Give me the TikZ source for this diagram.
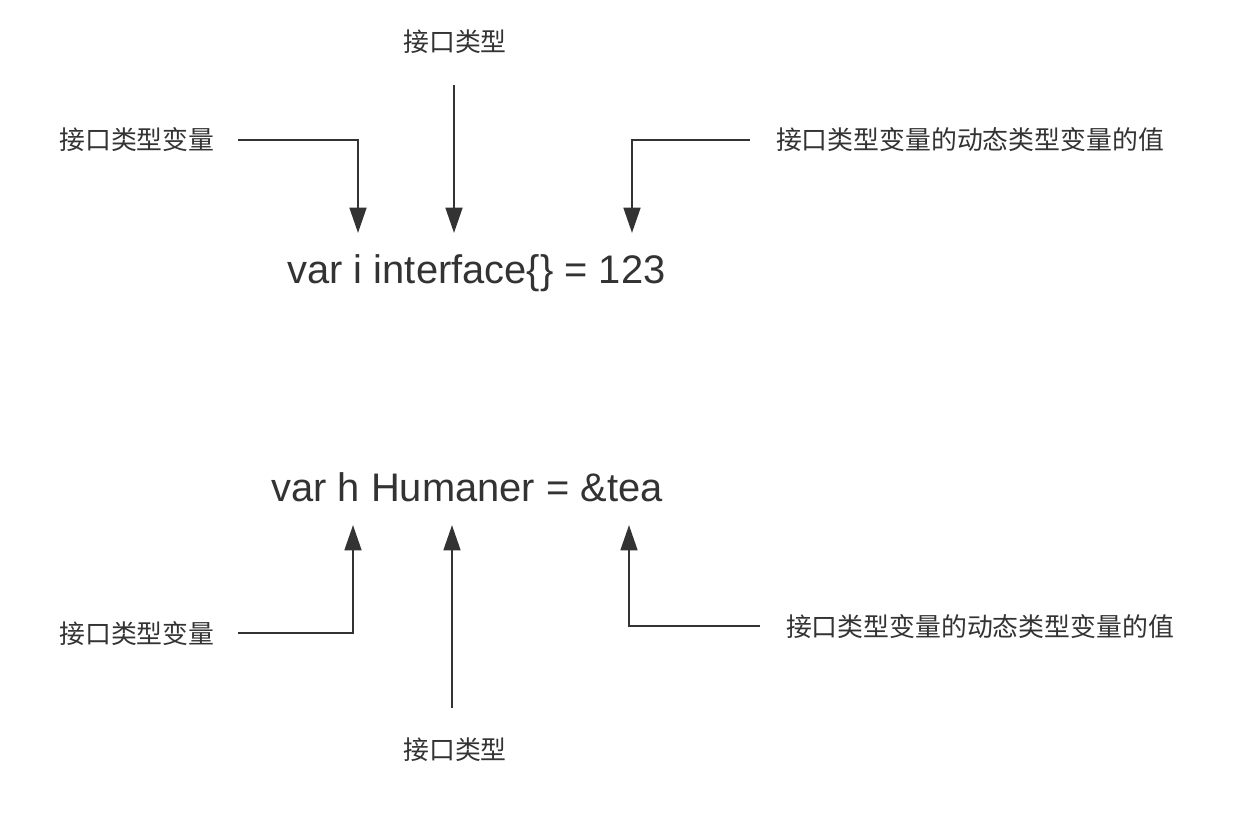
\documentclass[tikz,border=0pt]{standalone}
\usepackage{fontspec}
\setmainfont{Liberation Sans}
\newfontfamily\cjk{Noto Sans CJK SC}
\usetikzlibrary{arrows.meta}
\definecolor{ink}{HTML}{333333}
\begin{document}
\begin{tikzpicture}[x=0.75pt,y=-0.75pt,
  lab/.style={inner sep=0pt,text=ink,font=\cjk\fontsize{19.4pt}{23pt}\selectfont},
  code/.style={inner sep=0pt,text=ink,font=\fontsize{29.9pt}{35pt}\selectfont},
  arr/.style={draw=ink,line width=2pt,-{Triangle[width=12.5pt,length=19pt]}}]
\useasboundingbox[fill=white] (0,0) rectangle (1240,822);
% top
\node[code] (c1) at (476.5,273) {var i interface\{\} = 123};
\node[lab] (t1) at (455,42) {接口类型};
\node[lab] (t2) at (137,140) {接口类型变量};
\node[lab] (t3) at (970,140) {接口类型变量的动态类型变量的值};
\coordinate (s1) at (454,85);
\coordinate (s2) at (238,140);
\coordinate (s3) at (750,140);
\coordinate (e1) at (454,233);
\coordinate (e2) at (358,233);
\coordinate (e3) at (632,233);
\draw[arr] (s1) -- (e1);
\draw[arr] (s2) -| (e2);
\draw[arr] (s3) -| (e3);
% bottom
\node[code] (c2) at (467,487) {var h Humaner = \&tea};
\node[lab] (b1) at (455,750) {接口类型};
\node[lab] (b2) at (137,634) {接口类型变量};
\node[lab] (b3) at (980,627) {接口类型变量的动态类型变量的值};
\coordinate (u1) at (452,708);
\coordinate (u2) at (238,633);
\coordinate (u3) at (760,626);
\coordinate (f1) at (452,525);
\coordinate (f2) at (353,525);
\coordinate (f3) at (629,525);
\draw[arr] (u1) -- (f1);
\draw[arr] (u2) -| (f2);
\draw[arr] (u3) -| (f3);
\end{tikzpicture}
\end{document}
